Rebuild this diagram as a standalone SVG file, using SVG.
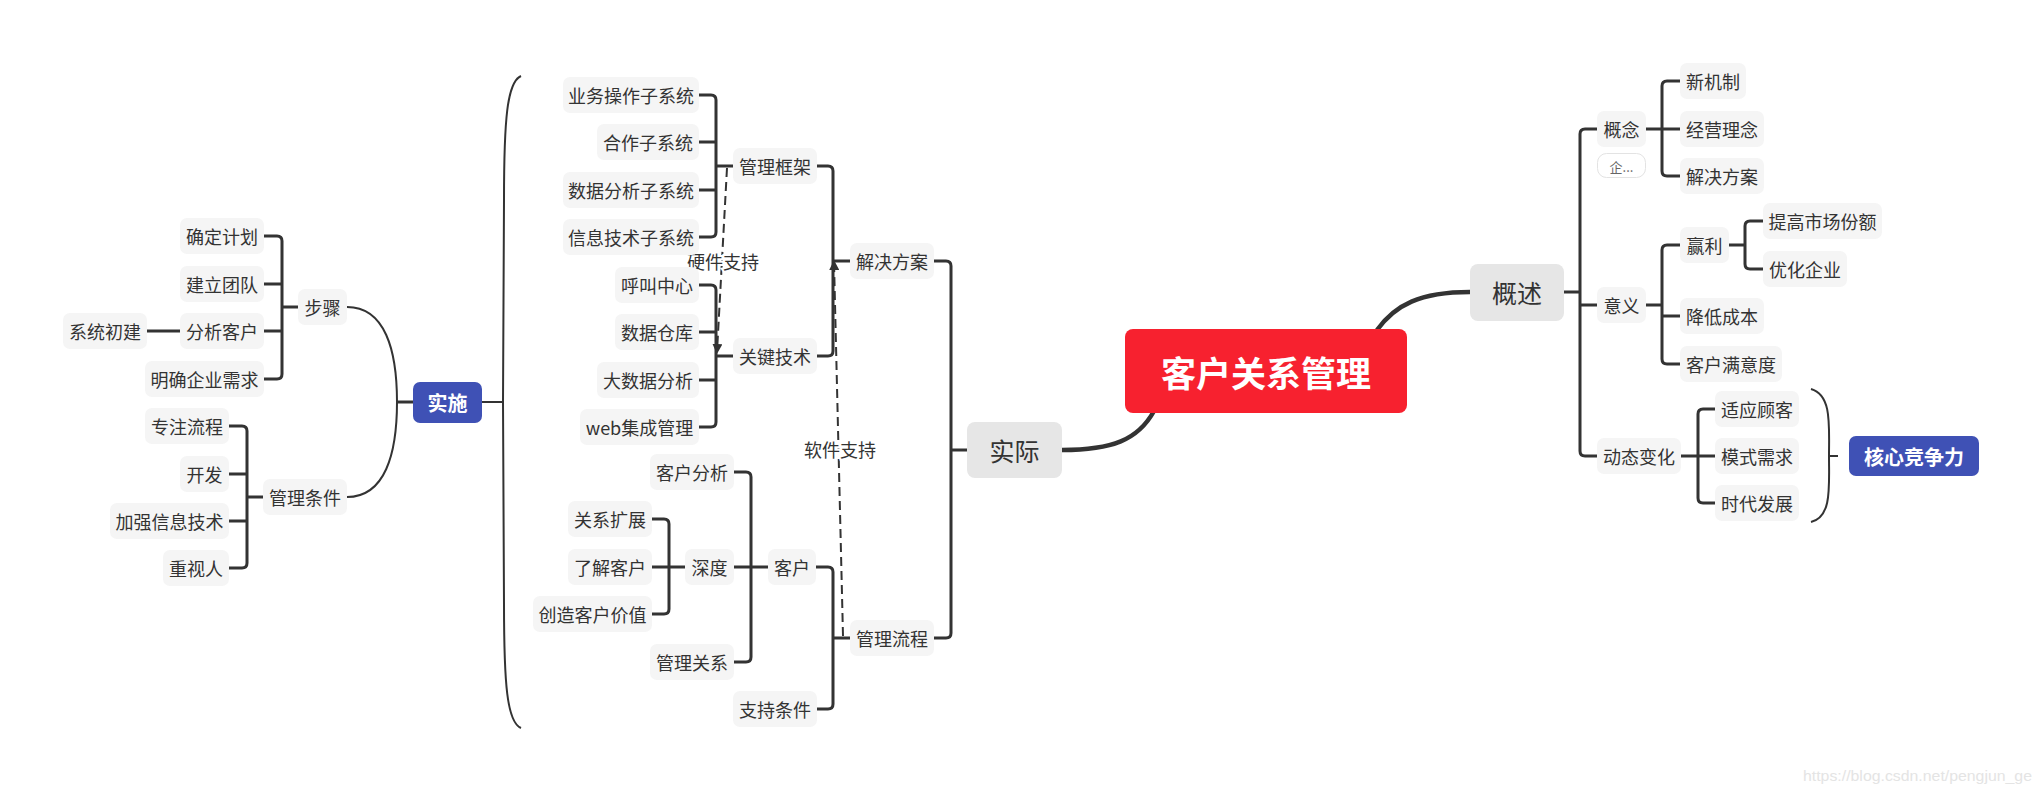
<svg xmlns="http://www.w3.org/2000/svg" width="2042" height="791" viewBox="0 0 2042 791">
<defs>
<style>
.n rect{fill:#f5f5f5}
.n text{font-family:"Noto Sans CJK SC","Noto Sans",sans-serif;font-size:18px;fill:#333;text-anchor:middle;dominant-baseline:central}
.m rect{fill:#e6e6e6}
.b rect{fill:#3f51b5}
.b text{fill:#fff;font-weight:bold}
.ln{fill:none;stroke:#333;stroke-width:3;stroke-linejoin:round;stroke-linecap:butt}
.th{fill:none;stroke:#333;stroke-width:2}
.dash{fill:none;stroke:#333;stroke-width:2;stroke-dasharray:9 5}
.lbl{font-family:"Noto Sans CJK SC","Noto Sans",sans-serif;font-size:18px;fill:#333;text-anchor:middle;dominant-baseline:central;stroke:#fff;stroke-width:4;paint-order:stroke}
</style>
<marker id="ah" viewBox="0 0 10 10" refX="8" refY="5" markerWidth="5" markerHeight="5" orient="auto"><path d="M0,0 L10,5 L0,10 z" fill="#333"/></marker>
</defs>
<rect width="2042" height="791" fill="#fff"/>

<g id="connectors">
<path class="ln" d="M264,236 H277 Q282,236 282,241 V374 Q282,379 277,379 H264 M264,284 H282 M264,331 H282 M282,307 H298"/>
<path class="ln" d="M147,331 H180"/>
<path class="ln" d="M229,426 H242 Q247,426 247,431 V563 Q247,568 242,568 H229 M229,474 H247 M229,521 H247 M247,497 H263"/>
<path class="th" d="M347,307 C385,307 397,350 397,402 M347,497 C385,497 397,454 397,402"/>
<path class="ln" d="M397,402 H413"/>
<path class="th" d="M482,402 H504"/>
<path class="th" d="M521,76 C507,82 504,120 504,200 L503,402 L504,604 C504,684 507,722 521,728"/>
<path class="ln" d="M699,95 H711 Q716,95 716,100 V232 Q716,237 711,237 H699 M699,142 H716 M699,190 H716 M716,166 H733"/>
<path class="ln" d="M699,285 H711 Q716,285 716,290 V422 Q716,427 711,427 H699 M699,332 H716 M699,380 H716 M716,356 H733"/>
<path class="ln" d="M817,166 H828 Q833,166 833,171 V351 Q833,356 828,356 H817 M833,261 H850"/>
<path class="ln" d="M652,519 H664 Q669,519 669,524 V609 Q669,614 664,614 H652 M652,567 H685"/>
<path class="ln" d="M734,472 H746 Q751,472 751,477 V657 Q751,662 746,662 H734 M734,567 H768"/>
<path class="ln" d="M816,567 H828 Q833,567 833,572 V704 Q833,709 828,709 H816 M833,638 H850"/>
<path class="ln" d="M934,261 H946 Q951,261 951,266 V633 Q951,638 946,638 H934 M951,450 H967"/>
<path d="M1062,450 C1112,450 1138,440 1154,411" fill="none" stroke="#333" stroke-width="4.5"/>
<path d="M1377,330 C1395,305 1420,292 1470,292" fill="none" stroke="#333" stroke-width="4.5"/>
<path class="dash" d="M727,168 L717,352" marker-end="url(#ah)"/>
<path class="dash" d="M843,636 L834,262" marker-end="url(#ah)"/>
<path class="ln" d="M1564,292 H1580 M1597,129 H1585 Q1580,129 1580,134 V451 Q1580,456 1585,456 H1597 M1580,305 H1597"/>
<path class="ln" d="M1646,129 H1680 M1680,81 H1667 Q1662,81 1662,86 V171 Q1662,176 1667,176 H1680"/>
<path class="ln" d="M1646,305 H1662 M1680,245 H1667 Q1662,245 1662,250 V359 Q1662,364 1667,364 H1680 M1662,316 H1680"/>
<path class="ln" d="M1729,245 H1745 M1763,221 H1750 Q1745,221 1745,226 V264 Q1745,269 1750,269 H1763"/>
<path class="ln" d="M1681,456 H1715 M1715,409 H1703 Q1698,409 1698,414 V498 Q1698,503 1703,503 H1715"/>
<path class="th" d="M1811,389 C1832,395 1829,425 1829,456 C1829,487 1832,517 1811,522 M1829,456 H1838"/>
</g>

<text class="lbl" x="723" y="261">硬件支持</text>
<text class="lbl" x="840" y="449">软件支持</text>

<g id="root"><rect x="1125" y="329" width="282" height="84" rx="8" fill="#f7212f"/><text x="1266" y="371" font-family="Noto Sans CJK SC,sans-serif" font-size="35" font-weight="bold" fill="#fff" text-anchor="middle" dominant-baseline="central">客户关系管理</text></g>

<g id="n-shishi" class="n b"><rect x="413" y="382" width="69" height="41" rx="7"/><text x="447.5" y="402" style="font-size:20px">实施</text></g>
<g id="n-buzhou" class="n"><rect x="298" y="289" width="49" height="36" rx="7"/><text x="322.5" y="307">步骤</text></g>
<g id="n-qdjh" class="n"><rect x="180" y="218" width="84" height="36" rx="7"/><text x="222" y="236">确定计划</text></g>
<g id="n-jltd" class="n"><rect x="180" y="266" width="84" height="36" rx="7"/><text x="222" y="284">建立团队</text></g>
<g id="n-fxkh" class="n"><rect x="180" y="313" width="84" height="36" rx="7"/><text x="222" y="331">分析客户</text></g>
<g id="n-xtcj" class="n"><rect x="63" y="313" width="84" height="36" rx="7"/><text x="105" y="331">系统初建</text></g>
<g id="n-mqqyxq" class="n"><rect x="145" y="361" width="119" height="36" rx="7"/><text x="204.5" y="379">明确企业需求</text></g>
<g id="n-gltj" class="n"><rect x="263" y="479" width="84" height="36" rx="7"/><text x="305" y="497">管理条件</text></g>
<g id="n-zzlc" class="n"><rect x="145" y="408" width="84" height="36" rx="7"/><text x="187" y="426">专注流程</text></g>
<g id="n-kf" class="n"><rect x="180" y="456" width="49" height="36" rx="7"/><text x="204.5" y="474">开发</text></g>
<g id="n-jqxxjs" class="n"><rect x="110" y="503" width="119" height="36" rx="7"/><text x="169.5" y="521">加强信息技术</text></g>
<g id="n-zsr" class="n"><rect x="163" y="550" width="66" height="36" rx="7"/><text x="196" y="568">重视人</text></g>

<g id="n-shiji" class="n m"><rect x="967" y="422" width="95" height="56" rx="8"/><text x="1014.5" y="450" style="font-size:25px">实际</text></g>
<g id="n-jjfa" class="n"><rect x="850" y="243" width="84" height="36" rx="7"/><text x="892" y="261">解决方案</text></g>
<g id="n-glkj" class="n"><rect x="733" y="148" width="84" height="36" rx="7"/><text x="775" y="166">管理框架</text></g>
<g id="n-ywczzxt" class="n"><rect x="563" y="77" width="136" height="36" rx="7"/><text x="631" y="95">业务操作子系统</text></g>
<g id="n-hzzxt" class="n"><rect x="597" y="124" width="102" height="36" rx="7"/><text x="648" y="142">合作子系统</text></g>
<g id="n-sjfxzxt" class="n"><rect x="563" y="172" width="136" height="36" rx="7"/><text x="631" y="190">数据分析子系统</text></g>
<g id="n-xxjszxt" class="n"><rect x="563" y="219" width="136" height="36" rx="7"/><text x="631" y="237">信息技术子系统</text></g>
<g id="n-gjjs" class="n"><rect x="733" y="338" width="84" height="36" rx="7"/><text x="775" y="356">关键技术</text></g>
<g id="n-hjzx" class="n"><rect x="615" y="267" width="84" height="36" rx="7"/><text x="657" y="285">呼叫中心</text></g>
<g id="n-sjck" class="n"><rect x="615" y="314" width="84" height="36" rx="7"/><text x="657" y="332">数据仓库</text></g>
<g id="n-dsjfx" class="n"><rect x="597" y="362" width="102" height="36" rx="7"/><text x="648" y="380">大数据分析</text></g>
<g id="n-web" class="n"><rect x="580" y="409" width="119" height="36" rx="7"/><text x="639.5" y="427">web集成管理</text></g>
<g id="n-gllc" class="n"><rect x="850" y="620" width="84" height="36" rx="7"/><text x="892" y="638">管理流程</text></g>
<g id="n-kh" class="n"><rect x="768" y="549" width="48" height="36" rx="7"/><text x="792" y="567">客户</text></g>
<g id="n-khfx" class="n"><rect x="650" y="454" width="84" height="36" rx="7"/><text x="692" y="472">客户分析</text></g>
<g id="n-sd" class="n"><rect x="685" y="549" width="49" height="36" rx="7"/><text x="709.5" y="567">深度</text></g>
<g id="n-gxkz" class="n"><rect x="568" y="501" width="84" height="36" rx="7"/><text x="610" y="519">关系扩展</text></g>
<g id="n-ljkh" class="n"><rect x="568" y="549" width="84" height="36" rx="7"/><text x="610" y="567">了解客户</text></g>
<g id="n-czkhjz" class="n"><rect x="533" y="596" width="119" height="36" rx="7"/><text x="592.5" y="614">创造客户价值</text></g>
<g id="n-glgx" class="n"><rect x="650" y="644" width="84" height="36" rx="7"/><text x="692" y="662">管理关系</text></g>
<g id="n-zctj" class="n"><rect x="733" y="691" width="84" height="36" rx="7"/><text x="775" y="709">支持条件</text></g>

<g id="n-gaishu" class="n m"><rect x="1470" y="264" width="94" height="57" rx="8"/><text x="1517" y="292" style="font-size:25px">概述</text></g>
<g id="n-gainian" class="n"><rect x="1597" y="111" width="49" height="36" rx="7"/><text x="1621.5" y="129">概念</text></g>
<g id="n-note"><rect x="1597.5" y="153.5" width="48" height="24" rx="9" fill="#fff" stroke="#e3e3e3"/><text x="1621.5" y="166" font-family="Noto Sans CJK SC,sans-serif" font-size="13" fill="#666" text-anchor="middle" dominant-baseline="central">企...</text></g>
<g id="n-xjz" class="n"><rect x="1680" y="63" width="66" height="36" rx="7"/><text x="1713" y="81">新机制</text></g>
<g id="n-jyln" class="n"><rect x="1680" y="111" width="84" height="36" rx="7"/><text x="1722" y="129">经营理念</text></g>
<g id="n-jjfa2" class="n"><rect x="1680" y="158" width="84" height="36" rx="7"/><text x="1722" y="176">解决方案</text></g>
<g id="n-yiyi" class="n"><rect x="1597" y="287" width="49" height="36" rx="7"/><text x="1621.5" y="305">意义</text></g>
<g id="n-yl" class="n"><rect x="1680" y="227" width="49" height="36" rx="7"/><text x="1704.5" y="245">赢利</text></g>
<g id="n-tgscfe" class="n"><rect x="1763" y="203" width="119" height="36" rx="7"/><text x="1822.5" y="221">提高市场份额</text></g>
<g id="n-yhqy" class="n"><rect x="1763" y="251" width="84" height="36" rx="7"/><text x="1805" y="269">优化企业</text></g>
<g id="n-jdcb" class="n"><rect x="1680" y="298" width="84" height="36" rx="7"/><text x="1722" y="316">降低成本</text></g>
<g id="n-khmyd" class="n"><rect x="1680" y="346" width="102" height="36" rx="7"/><text x="1731" y="364">客户满意度</text></g>
<g id="n-dtbh" class="n"><rect x="1597" y="438" width="84" height="36" rx="7"/><text x="1639" y="456">动态变化</text></g>
<g id="n-sygk" class="n"><rect x="1715" y="391" width="84" height="36" rx="7"/><text x="1757" y="409">适应顾客</text></g>
<g id="n-msxq" class="n"><rect x="1715" y="438" width="84" height="36" rx="7"/><text x="1757" y="456">模式需求</text></g>
<g id="n-sdfz" class="n"><rect x="1715" y="485" width="84" height="36" rx="7"/><text x="1757" y="503">时代发展</text></g>
<g id="n-hxjzl" class="n b"><rect x="1849" y="436" width="130" height="40" rx="7"/><text x="1914" y="456" style="font-size:20px">核心竞争力</text></g>

<text x="1803" y="781" font-family="Liberation Sans,Arial,sans-serif" font-size="15" fill="#e4e4e4" textLength="229" lengthAdjust="spacingAndGlyphs">https://blog.csdn.net/pengjun_ge</text>
</svg>
